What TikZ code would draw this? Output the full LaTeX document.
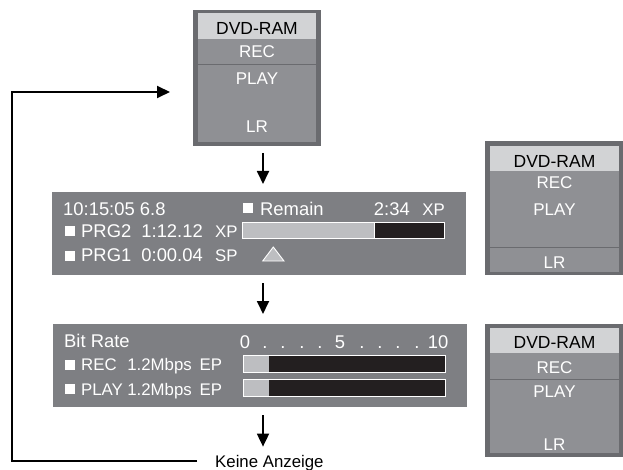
\documentclass[tikz,border=0pt]{standalone}
\usepackage{fontspec}
\setmainfont{Liberation Sans}
\usetikzlibrary{arrows.meta}
\definecolor{panelgray}{HTML}{7E7F83}
\definecolor{boxborder}{HTML}{6A6B6F}
\definecolor{boxfill}{HTML}{8F9094}
\definecolor{headfill}{HTML}{D2D3D5}
\definecolor{barlight}{HTML}{BDBEC1}
\definecolor{barblack}{HTML}{231F20}
\tikzset{
  outerbox/.style={fill=boxborder, draw=none, inner sep=0pt, outer sep=0pt, anchor=north west},
  panel/.style={fill=panelgray, draw=none, inner sep=0pt, outer sep=0pt, anchor=north west},
  txt/.style={font=\fontsize{17}{19}\selectfont, text=white, inner sep=0pt},
  ptxt/.style={font=\fontsize{18.4}{20}\selectfont, text=white, inner sep=0pt},
  qtxt/.style={font=\fontsize{16.8}{19}\selectfont, text=white, inner sep=0pt},
  btxt/.style={font=\fontsize{16.8}{19}\selectfont, text=black, inner sep=0pt},
  hdtxt/.style={font=\fontsize{17.5}{19}\selectfont, text=black, inner sep=0pt, anchor=base},
  arr/.style={line width=1.8pt, -{Triangle[length=13pt,width=12pt]}},
  sq/.style={fill=white, minimum size=10pt, inner sep=0pt, draw=none},
  sepline/.style={draw=boxborder, line width=1pt},
  barout/.style={draw=white, line width=0.9pt},
}
\begin{document}
\begin{tikzpicture}[x=1pt,y=-1pt]
\useasboundingbox[fill=white] (0,0) rectangle (623,470);

% ---------- top box ----------
\node[outerbox, minimum width=128pt, minimum height=136pt] (topbox) at (193,10) {};
\fill[boxfill] (198,13) rectangle (316,142);
\fill[headfill] (198,13) rectangle (316,39);
\draw[sepline] (198,65) -- (316,65);
\node[hdtxt] (t1) at (257,34.5) {DVD-RAM};
\node[txt, anchor=base] (t2) at (257,58) {REC};
\node[txt, anchor=base] (t3) at (257,85) {PLAY};
\node[txt, anchor=base] (t4) at (257,133) {LR};

% ---------- right box A ----------
\node[outerbox, minimum width=138pt, minimum height=134pt] (boxa) at (485,141) {};
\fill[boxfill] (490,146) rectangle (619,272);
\fill[headfill] (490,146) rectangle (619,171);
\draw[sepline] (490,247) -- (619,247);
\node[hdtxt] (a1) at (554.5,168) {DVD-RAM};
\node[txt, anchor=base] (a2) at (554.5,189) {REC};
\node[txt, anchor=base] (a3) at (554.5,215) {PLAY};
\node[txt, anchor=base] (a4) at (554.5,268) {LR};

% ---------- right box B ----------
\node[outerbox, minimum width=138pt, minimum height=133pt] (boxb) at (485,324) {};
\fill[boxfill] (490,328) rectangle (619,453);
\fill[headfill] (490,328) rectangle (619,353);
\draw[sepline] (490,379) -- (619,379);
\node[hdtxt] (b1) at (554.5,348) {DVD-RAM};
\node[txt, anchor=base] (b2) at (554.5,373) {REC};
\node[txt, anchor=base] (b3) at (554.5,397) {PLAY};
\node[txt, anchor=base] (b4) at (554.5,450) {LR};

% ---------- panel 2 ----------
\node[panel, minimum width=414pt, minimum height=83pt] (p2) at (52,192) {};
\node[ptxt, anchor=base west] (p2time) at (63,215) {10:15:05 6.8};
\node[sq] (p2sq0) at (248,208.5) {};
\node[ptxt, anchor=base west] (p2rem) at (260,215) {Remain};
\node[ptxt, anchor=base east] (p2rt) at (410,215) {2:34};
\node[qtxt, anchor=base east] (p2rxp) at (445,215) {XP};
\node[sq] (p2sq1) at (70,231.5) {};
\node[ptxt, anchor=base west] (p2prg2) at (81,237) {PRG2};
\node[ptxt, anchor=base east] (p2t2) at (203,237) {1:12.12};
\node[qtxt, anchor=base west] (p2xp) at (215,237) {XP};
\node[sq] (p2sq2) at (70,255.5) {};
\node[ptxt, anchor=base west] (p2prg1) at (81,261) {PRG1};
\node[ptxt, anchor=base east] (p2t1) at (203,261) {0:00.04};
\node[qtxt, anchor=base west] (p2sp) at (215,261) {SP};
\fill[barlight] (242.5,222.5) rectangle (374,238);
\fill[barblack] (374,222.5) rectangle (444.5,238);
\draw[barout] (242.5,222.5) rectangle (444.5,238);
\draw[barout] (374,222.5) -- (374,238);
\draw[barout, fill=barlight] (273.3,247) -- (284,261) -- (262.7,261) -- cycle;

% ---------- panel 3 ----------
\node[panel, minimum width=414pt, minimum height=83pt] (p3) at (53,324) {};
\node[ptxt, anchor=base west] (p3br) at (64,347) {Bit Rate};
\node[ptxt, anchor=base] (s0) at (245,348) {0};
\node[ptxt, anchor=base] (s5) at (340,348) {5};
\node[ptxt, anchor=base] (s10) at (438,348) {10};
\foreach \d [count=\i] in {265,283,302,320,362,380,398,417}
  \node[ptxt, anchor=base] (dot\i) at (\d,348) {.};
\node[sq] (p3sq1) at (70,364.5) {};
\node[qtxt, anchor=base west] (p3rec) at (81,370.5) {REC};
\node[qtxt, anchor=base east] (p3r1) at (192,370.5) {1.2Mbps};
\node[qtxt, anchor=base west] (p3ep1) at (199.5,370.5) {EP};
\node[sq] (p3sq2) at (70,389) {};
\node[qtxt, anchor=base west] (p3play) at (81,395) {PLAY};
\node[qtxt, anchor=base east] (p3r2) at (192,395) {1.2Mbps};
\node[qtxt, anchor=base west] (p3ep2) at (199.5,395) {EP};
\fill[barlight] (243.5,355.5) rectangle (269.3,372);
\fill[barblack] (269.3,355.5) rectangle (445.5,372);
\draw[barout] (243.5,355.5) rectangle (445.5,372);
\fill[barlight] (243.5,379.5) rectangle (269.3,396.5);
\fill[barblack] (269.3,379.5) rectangle (445.5,396.5);
\draw[barout] (243.5,379.5) rectangle (445.5,396.5);

% ---------- Keine Anzeige ----------
\node[btxt, anchor=base west] (keine) at (215,467) {Keine Anzeige};

% ---------- connectors ----------
\coordinate (ax) at (263,0);
\draw[arr, shorten <=7pt, shorten >=8pt] (topbox.south -| ax) -- (p2.north -| ax);
\draw[arr, shorten <=8pt, shorten >=10pt] (p2.south -| ax) -- (p3.north -| ax);
\draw[arr, shorten <=8pt, shorten >=8pt] (p3.south -| ax) -- (ax |- keine.north);
\coordinate (loopbl) at (12,461);
\coordinate (loopend) at (197,461);
\draw[line width=2pt, -{Triangle[length=13pt,width=12pt]}, shorten >=23pt]
  (loopend) -- (loopbl) |- ([yshift=-14pt]topbox.west);
\end{tikzpicture}
\end{document}
